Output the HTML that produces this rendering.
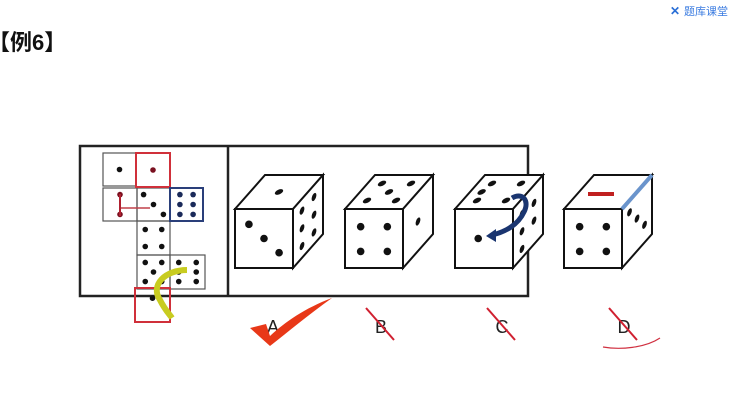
<!DOCTYPE html>
<html><head><meta charset="utf-8"><style>
html,body{margin:0;padding:0;background:#fff;width:735px;height:408px;overflow:hidden}
svg{display:block}
text{font-family:"Liberation Sans","Noto Sans CJK SC",sans-serif}
</style></head><body>
<svg id="s" width="735" height="408" viewBox="0 0 735 408" xmlns="http://www.w3.org/2000/svg">
<text x="-12" y="50" font-size="22" font-weight="bold" fill="#111">【例6】</text>
<g>
<text x="670" y="15" font-size="12" fill="#2a6fd6" font-weight="bold">✕</text>
<text x="684" y="15" font-size="11" fill="#3a7be0">题库课堂</text>
</g>
<rect x="80" y="146" width="448" height="150" fill="none" stroke="#222" stroke-width="2.5"/>
<line x1="228" y1="146" x2="228" y2="296" stroke="#222" stroke-width="2.5"/>
<g id="net" stroke="#555" stroke-width="1" fill="#fff"></g>
<g id="dice"></g>
<g id="marks"></g>
</svg>
<script>
const NS="http://www.w3.org/2000/svg";
function mk(tag,attrs,parent){const e=document.createElementNS(NS,tag);for(const k in attrs)e.setAttribute(k,attrs[k]);parent.appendChild(e);return e;}
const net=document.getElementById('net');
const netSquares=[
 [103,153,33,33,'#555',[[0.5,0.5]]],
 [137,188,33,33,'#555',[[0.2,0.2],[0.5,0.5],[0.8,0.8]]],
 [103,188,34,33,'#555',[[0.5,0.2],[0.5,0.8]]],
 [137,221,33,34,'#555',[[0.25,0.25],[0.75,0.25],[0.25,0.75],[0.75,0.75]]],
 [137,255,33,34,'#555',[[0.25,0.22],[0.75,0.22],[0.25,0.78],[0.75,0.78],[0.5,0.5]]],
 [170,255,35,34,'#555',[[0.25,0.22],[0.75,0.22],[0.25,0.5],[0.75,0.5],[0.25,0.78],[0.75,0.78]]],
 [136,153,34,34,'#d0303a',[[0.5,0.5]]],
 [170,188,33,33,'#2a3f7a',[[0.3,0.2],[0.7,0.2],[0.3,0.5],[0.7,0.5],[0.3,0.8],[0.7,0.8]]],
 [135,288,35,34,'#d0303a',[[0.5,0.3]]]
];
netSquares.forEach((q,i)=>{
 const r=mk('rect',{x:q[0],y:q[1],width:q[2],height:q[3],stroke:q[4],'stroke-width':q[4]=='#555'?1.2:2,fill:'none'},net);
 
 
 q[5].forEach(p=>mk('circle',{cx:q[0]+p[0]*q[2],cy:q[1]+p[1]*q[3],r:2.8,fill:(i==6||i==2)?'#7a1020':(i==7?'#1a2a5a':'#111'),stroke:'none'},net));
});
mk('path',{d:'M121 208 H150',stroke:'#c0404a','stroke-width':1.5,fill:'none'},net);
mk('path',{d:'M120 194 V216',stroke:'#b02030','stroke-width':2,fill:'none'},net);
mk('path',{d:'M187 270 C165 270 150 285 160 300 C165 310 170 315 172 318',stroke:'#c8cc20','stroke-width':6,fill:'none'},net);
const dice=document.getElementById('dice');
const diceX=[235,345,455,564];
const names=['a','b','c','d'];
const frontPips=[[[0.24,0.26],[0.5,0.5],[0.76,0.74]],[[0.27,0.3],[0.73,0.3],[0.27,0.72],[0.73,0.72]],[[0.4,0.5]],[[0.27,0.3],[0.73,0.3],[0.27,0.72],[0.73,0.72]]];
const topPips=[[[0.5,0.5]],[[0.25,0.25],[0.75,0.25],[0.5,0.5],[0.25,0.75],[0.75,0.75]],[[0.25,0.25],[0.75,0.25],[0.25,0.75],[0.75,0.75],[0.2,0.5]],[]];
const rightPips=[[[0.3,0.2],[0.7,0.2],[0.3,0.5],[0.7,0.5],[0.3,0.8],[0.7,0.8]],[[0.5,0.5]],[[0.3,0.25],[0.7,0.3],[0.3,0.55],[0.7,0.6],[0.3,0.85]],[[0.25,0.2],[0.5,0.45],[0.75,0.7]]];
const Y0=209,W=58,H=59,DX=30,DY=34;
diceX.forEach((x,i)=>{
 const g=mk('g',{},dice);
 
 
 mk('path',{d:`M${x} ${Y0} L${x+DX} ${Y0-DY} L${x+W+DX} ${Y0-DY} L${x+W} ${Y0} Z`,fill:'#fff',stroke:'#111','stroke-width':2},g);
 mk('path',{d:`M${x+W} ${Y0} L${x+W+DX} ${Y0-DY} L${x+W+DX} ${Y0-DY+H} L${x+W} ${Y0+H} Z`,fill:'#fff',stroke:'#111','stroke-width':2},g);
 mk('rect',{x:x,y:Y0,width:W,height:H,fill:'#fff',stroke:'#111','stroke-width':2},g);
 frontPips[i].forEach(p=>mk('circle',{cx:x+p[0]*W,cy:Y0+p[1]*H,r:3.8,fill:'#111'},g));
 topPips[i].forEach(p=>{const cx=x+p[0]*W+p[1]*DX,cy=Y0-p[1]*DY;mk('ellipse',{cx:cx,cy:cy,rx:4.5,ry:2.3,transform:`rotate(-25 ${cx} ${cy})`,fill:'#111'},g);});
 rightPips[i].forEach(p=>{const cx=x+W+p[0]*DX,cy=Y0-p[0]*DY+p[1]*H;mk('ellipse',{cx:cx,cy:cy,rx:2,ry:4.3,transform:`rotate(20 ${cx} ${cy})`,fill:'#111'},g);});
});
const m=document.getElementById('marks');
mk('path',{d:'M512 198 C522 192 530 200 524 212 C518 225 505 232 492 235',stroke:'#1a3570','stroke-width':5,fill:'none'},m);
mk('path',{d:'M486 236 L496 229 L496 242 Z',fill:'#1a3570'},m);
mk('path',{d:'M588 194 H614',stroke:'#c02020','stroke-width':4,fill:'none'},m);
mk('line',{x1:622,y1:209,x2:652,y2:175,stroke:'#6a94cc','stroke-width':4},m);
const labels=['A','B','C','D'],labelX=[273,381,502,624];
labels.forEach((l,i)=>{
 const t=mk('text',{x:labelX[i],y:333,'font-size':18,'text-anchor':'middle',fill:'#222'},m);
 t.textContent=l;
 
 
 if(i>0)mk('line',{x1:labelX[i]-15,y1:308,x2:labelX[i]+13,y2:340,stroke:'#d02030','stroke-width':2},m);
});
const chk=mk('path',{d:'M250 328 L266 324 L270 336 C285 322 305 308 332 298 C308 315 288 332 270 346 Z',fill:'#e83818'},m);


mk('path',{d:'M603 347 C620 350 645 348 660 338',stroke:'#d03040','stroke-width':1.2,fill:'none'},m);
</script>
</body></html>
